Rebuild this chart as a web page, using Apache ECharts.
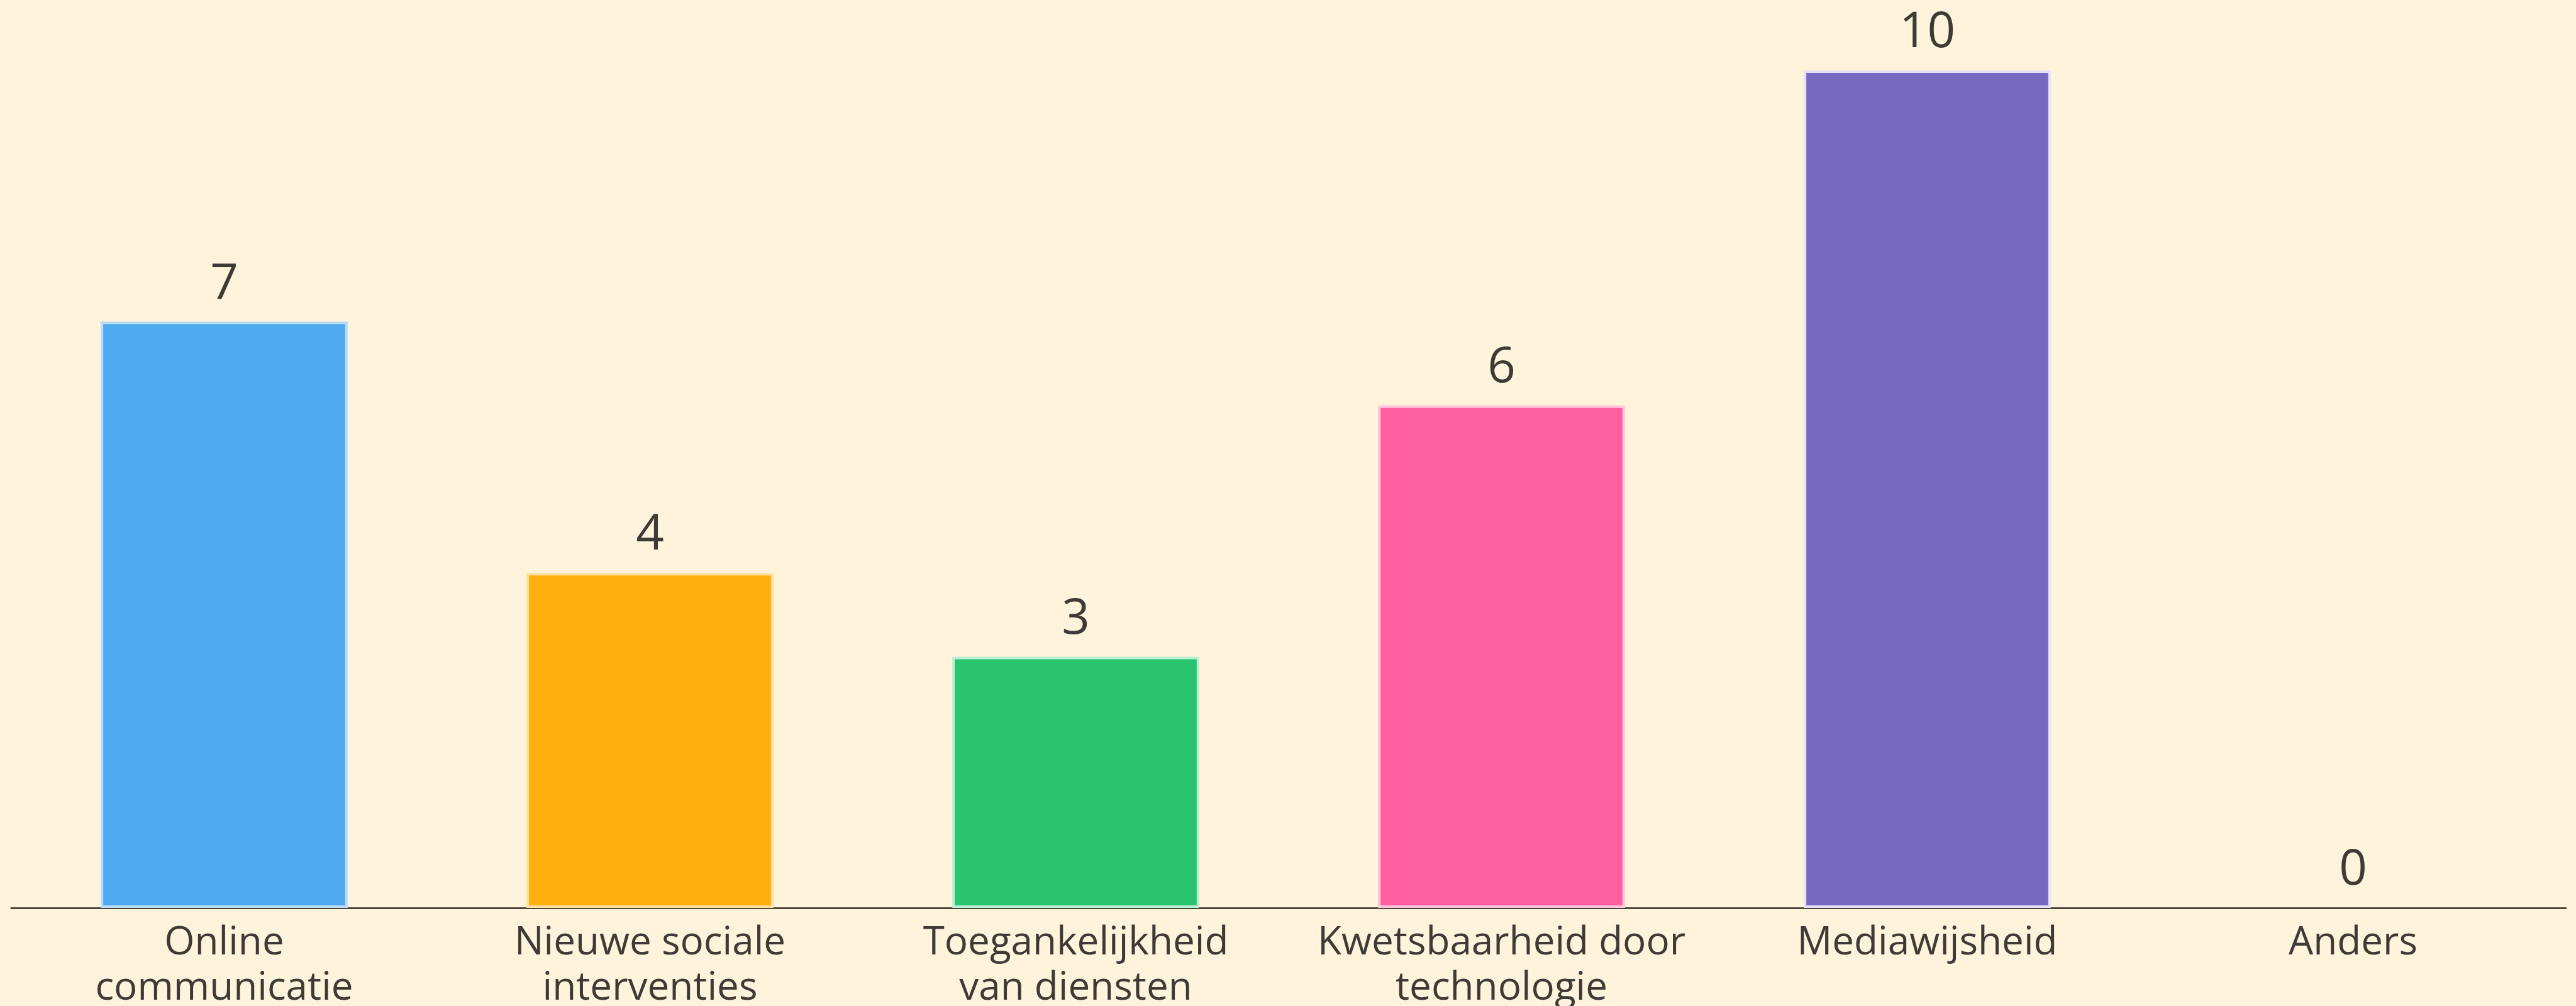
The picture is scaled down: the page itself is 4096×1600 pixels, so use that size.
<!DOCTYPE html>
<html>
<head>
<meta charset="utf-8">
<script src="https://cdn.jsdelivr.net/npm/echarts@6/dist/echarts.min.js"></script>
<style>
  html, body { margin: 0; padding: 0; background: #FFF3DC; }
  #chart { width: 4096px; height: 1600px; }
</style>
</head>
<body>
<div id="chart"></div>
<script>
var categories = [
  'Online\ncommunicatie',
  'Nieuwe sociale\ninterventies',
  'Toegankelijkheid\nvan diensten',
  'Kwetsbaarheid door\ntechnologie',
  'Mediawijsheid',
  'Anders'
];
var counts = [7, 4, 3, 6, 10, 0];
var barColors = ['#4FA9F0', '#FFAF0C', '#2AC470', '#FF5F9F', '#7769BF', '#9AA0A6'];
var borderColors = ['#B9DDF8', '#FFE0A0', '#BDEFD3', '#FFC6DD', '#E6E2F6', '#DDDDDD'];

(function() {
  var dom = document.getElementById('chart');
  var chart = echarts.init(dom, null, { renderer: 'canvas' });
  var font = "'Open Sans', 'Noto Sans', sans-serif";
  var ink = '#3d3b36';

  chart.setOption({
    animation: false,
    backgroundColor: '#FFF3DC',
    grid: { left: 18, right: 16, top: 112, bottom: 156, containLabel: false, outerBoundsMode: 'none' },
    xAxis: {
      type: 'category',
      data: categories,
      axisTick: { show: false },
      axisLine: { lineStyle: { color: '#4a4638', width: 3 } },
      axisLabel: {
        color: ink,
        fontFamily: font,
        fontSize: 62,
        lineHeight: 72,
        margin: 20,
        interval: 0
      }
    },
    yAxis: {
      type: 'value',
      min: 0,
      max: 10,
      show: false,
      splitLine: { show: false }
    },
    series: [{
      type: 'bar',
      barWidth: '58%',
      data: counts.map(function(v, i) {
        return {
          value: v,
          itemStyle: {
            color: barColors[i],
            borderColor: borderColors[i],
            borderWidth: v > 0 ? 4 : 0
          }
        };
      }),
      label: {
        show: true,
        position: 'top',
        distance: 20,
        color: ink,
        fontFamily: font,
        fontSize: 78
      }
    }]
  });
  window.addEventListener('resize', function() { chart.resize(); });
})();
</script>
</body>
</html>
